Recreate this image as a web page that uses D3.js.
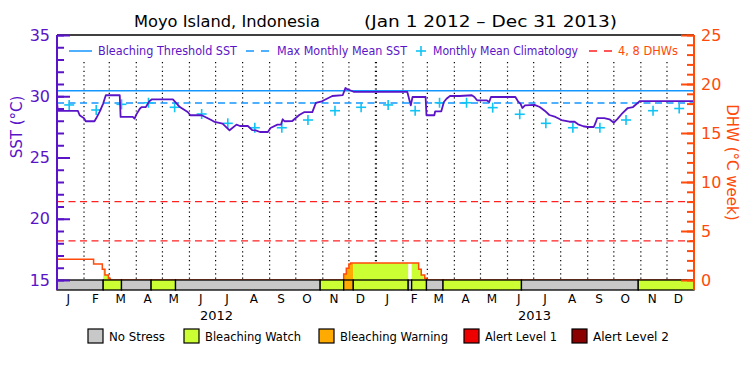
<!DOCTYPE html>
<html>
<head>
<meta charset="utf-8">
<script src="https://cdn.jsdelivr.net/npm/d3@7"></script>
<style>
body { margin: 0; background: #fff; }
svg { display: block; font-family: 'DejaVu Sans', sans-serif; }
</style>
</head>
<body>
<svg id="chart" width="750" height="375"></svg>
<script>
// ---- data ----
const monthLetters = ['J', 'F', 'M', 'A', 'M', 'J', 'J', 'A', 'S', 'O', 'N', 'D'];
const years = [2012, 2013];
const sstTicks = [15, 20, 25, 30, 35];
const dhwTicks = [0, 5, 10, 15, 20, 25];

const maxMonthlyMean = 29.45;
const bleachingThreshold = 30.45;
const dhwLevels = [4, 8];

// monthly mean climatology, Jan..Dec, shown for both years
const climatology2012 = [29.29, 28.88, 29.34, 29.47, 29.1, 28.55, 27.79, 27.43, 27.43, 28.06, 28.82, 29.1];
const climatology2013 = [29.29, 28.82, 29.47, 29.47, 29.07, 28.53, 27.79, 27.43, 27.43, 28.06, 28.82, 29.0];

// daily SST, key points of the trace
const sstSeries = [
    ['2012-01-01', 29.5], ['2012-01-02', 28.8], ['2012-01-25', 28.8], ['2012-01-27', 28.45],
    ['2012-02-01', 28.2], ['2012-02-03', 27.96], ['2012-02-13', 27.96], ['2012-02-15', 28.2],
    ['2012-02-19', 28.75], ['2012-02-23', 29.4], ['2012-02-26', 30.08], ['2012-03-13', 30.08],
    ['2012-03-14', 28.31], ['2012-03-28', 28.31], ['2012-03-30', 28.17], ['2012-04-01', 28.5],
    ['2012-04-05', 28.98], ['2012-04-07', 29.12], ['2012-04-12', 29.12], ['2012-04-16', 29.6],
    ['2012-04-19', 29.75], ['2012-05-13', 29.75], ['2012-05-21', 29.12], ['2012-05-30', 28.71],
    ['2012-06-02', 28.45], ['2012-06-15', 28.45], ['2012-06-26', 28.06], ['2012-06-30', 27.9],
    ['2012-07-09', 27.76], ['2012-07-17', 27.22], ['2012-07-25', 27.68], ['2012-07-29', 27.57],
    ['2012-08-07', 27.57], ['2012-08-12', 27.24], ['2012-08-16', 27.22], ['2012-08-21', 27.08],
    ['2012-08-30', 27.08], ['2012-09-02', 27.41], ['2012-09-10', 27.68], ['2012-09-14', 27.68],
    ['2012-09-16', 28.12], ['2012-09-18', 27.96], ['2012-09-27', 27.98], ['2012-10-05', 28.47],
    ['2012-10-11', 28.71], ['2012-10-20', 28.71], ['2012-10-24', 29.45], ['2012-10-31', 29.59],
    ['2012-11-12', 30.02], ['2012-11-24', 30.1], ['2012-11-27', 30.67], ['2012-11-29', 30.59],
    ['2012-12-07', 30.35], ['2013-02-06', 30.35], ['2013-02-09', 29.53], ['2013-02-10', 29.26],
    ['2013-02-12', 29.94], ['2013-02-27', 29.94], ['2013-02-28', 28.45], ['2013-03-09', 28.45],
    ['2013-03-10', 28.77], ['2013-03-17', 28.77], ['2013-03-20', 29.53], ['2013-03-23', 29.8],
    ['2013-03-27', 30.02], ['2013-04-07', 30.02], ['2013-04-21', 30.08], ['2013-04-24', 29.94],
    ['2013-04-27', 29.67], ['2013-05-08', 29.67], ['2013-05-11', 29.53], ['2013-05-13', 29.94],
    ['2013-06-10', 29.94], ['2013-06-13', 29.59], ['2013-06-16', 29.37], ['2013-06-18', 29.04],
    ['2013-06-21', 29.26], ['2013-07-02', 29.29], ['2013-07-08', 29.12], ['2013-07-14', 28.8],
    ['2013-07-19', 28.47], ['2013-07-26', 28.31], ['2013-08-02', 28.06], ['2013-08-11', 27.92],
    ['2013-08-17', 27.92], ['2013-08-21', 27.71], ['2013-08-27', 27.55], ['2013-09-01', 27.49],
    ['2013-09-08', 27.49], ['2013-09-10', 27.82], ['2013-09-12', 28.22], ['2013-09-20', 28.22],
    ['2013-09-26', 28.12], ['2013-10-01', 27.84], ['2013-10-05', 28.14], ['2013-10-11', 28.63],
    ['2013-10-17', 29.04], ['2013-10-23', 29.12], ['2013-10-27', 29.37], ['2013-10-31', 29.61],
    ['2013-12-31', 29.61]
];

// degree heating weeks, value holds from that date on
const dhwSeries = [
    ['2012-01-01', 2.11], ['2012-02-12', 1.63], ['2012-02-22', 1.09], ['2012-02-25', 0.51],
    ['2012-02-29', 0.17], ['2012-03-02', 0], ['2012-11-25', 0.6], ['2012-11-28', 1.19],
    ['2012-12-01', 1.63], ['2012-12-03', 1.74], ['2013-02-19', 1.09], ['2013-02-22', 0.51],
    ['2013-02-26', 0.17], ['2013-02-28', 0], ['2014-01-01', 0]
];

// stress level: 0 no stress, 1 watch, 2 warning, 3 alert 1, 4 alert 2
const stressSegments = [
    ['2012-01-01', '2012-02-23', 0], ['2012-02-23', '2012-03-15', 1], ['2012-03-15', '2012-04-18', 0],
    ['2012-04-18', '2012-05-16', 1], ['2012-05-16', '2012-10-29', 0], ['2012-10-29', '2012-11-25', 1],
    ['2012-11-25', '2012-12-06', 2], ['2012-12-06', '2013-02-07', 1], ['2013-02-07', '2013-02-11', 0],
    ['2013-02-11', '2013-02-28', 1], ['2013-02-28', '2013-03-19', 0], ['2013-03-19', '2013-06-17', 1],
    ['2013-06-17', '2013-10-29', 0], ['2013-10-29', '2014-01-01', 1]
];

const stressNames = ['No Stress', 'Bleaching Watch', 'Bleaching Warning', 'Alert Level 1', 'Alert Level 2'];
const stressColors = ['#c8c8c8', '#ccff33', '#ffaa00', '#ee0000', '#8b0000'];

const COLOR_SST = '#5a14c8';
const COLOR_THRESH = '#1496ff';
const COLOR_CLIM = '#10c4f4';
const COLOR_DHW = '#ff4a0a';
const COLOR_DHW_LINES = '#ff2020';

// ---- layout ----
const plot = { left: 57, right: 694, top: 35, bottom: 280, stripBottom: 290 };

const parse = d3.utcParse('%Y-%m-%d');
const start = parse('2012-01-01');
const end = parse('2014-01-01');

const x = d3.scaleUtc().domain([start, end]).range([plot.left, plot.right]);
const ySST = d3.scaleLinear().domain([15, 35]).range([plot.bottom, plot.top]);
const yDHW = d3.scaleLinear().domain([0, 25]).range([plot.bottom, plot.top]);

const svg = d3.select('#chart');

// title
const title = svg.append('g').attr('font-size', 16).attr('fill', '#000');
title.append('text').attr('x', 134).attr('y', 27)
    .attr('textLength', 186).attr('lengthAdjust', 'spacingAndGlyphs')
    .text('Moyo Island, Indonesia');
title.append('text').attr('x', 364).attr('y', 27)
    .attr('textLength', 253).attr('lengthAdjust', 'spacingAndGlyphs')
    .text('(Jan 1 2012 \u2013 Dec 31 2013)');

// month grid
const monthStarts = d3.utcMonth.range(d3.utcMonth.offset(start, 1), end);
svg.append('g')
    .selectAll('line')
    .data(monthStarts)
    .join('line')
    .attr('x1', d => x(d)).attr('x2', d => x(d))
    .attr('y1', 62).attr('y2', plot.bottom)
    .attr('stroke', '#000')
    .attr('stroke-width', d => d.getUTCMonth() === 0 ? 2.2 : 1.2)
    .attr('stroke-dasharray', '1.2,3.2');

// DHW threshold lines
svg.append('g')
    .selectAll('line')
    .data(dhwLevels)
    .join('line')
    .attr('x1', plot.left).attr('x2', plot.right)
    .attr('y1', d => yDHW(d)).attr('y2', d => yDHW(d))
    .attr('stroke', COLOR_DHW_LINES)
    .attr('stroke-width', 1.3)
    .attr('stroke-dasharray', '7,4.5');

// DHW area coloured by stress level
const dhwData = dhwSeries.map(d => ({ date: parse(d[0]), value: d[1] }));
const dhwArea = d3.area()
    .curve(d3.curveStepAfter)
    .x(d => x(d.date))
    .y0(yDHW(0))
    .y1(d => yDHW(d.value));
const dhwLine = d3.line()
    .curve(d3.curveStepAfter)
    .x(d => x(d.date))
    .y(d => yDHW(d.value));

const segments = stressSegments.map(d => ({ from: parse(d[0]), to: parse(d[1]), level: d[2] }));
const defs = svg.append('defs');
segments.forEach((s, i) => {
    if (s.level === 0) return;
    defs.append('clipPath').attr('id', 'seg' + i)
        .append('rect')
        .attr('x', x(s.from)).attr('width', x(s.to) - x(s.from))
        .attr('y', plot.top).attr('height', plot.bottom - plot.top);
    svg.append('path')
        .datum(dhwData)
        .attr('clip-path', `url(#seg${ i })`)
        .attr('fill', stressColors[s.level])
        .attr('d', dhwArea);
});
svg.append('path')
    .datum(dhwData)
    .attr('fill', 'none')
    .attr('stroke', COLOR_DHW)
    .attr('stroke-width', 1.5)
    .attr('d', dhwLine);

// threshold and MMM
svg.append('line')
    .attr('x1', plot.left).attr('x2', plot.right)
    .attr('y1', ySST(bleachingThreshold)).attr('y2', ySST(bleachingThreshold))
    .attr('stroke', COLOR_THRESH).attr('stroke-width', 1.5);
svg.append('line')
    .attr('x1', plot.left).attr('x2', plot.right)
    .attr('y1', ySST(maxMonthlyMean)).attr('y2', ySST(maxMonthlyMean))
    .attr('stroke', COLOR_THRESH).attr('stroke-width', 1.5)
    .attr('stroke-dasharray', '7,4.5');

// climatology crosses at mid-month
const climData = years.flatMap((yr, yi) => {
    const vals = yi === 0 ? climatology2012 : climatology2013;
    return vals.map((v, m) => ({ date: new Date(Date.UTC(yr, m, 15)), value: v }));
});
const crosses = svg.append('g').attr('stroke', COLOR_CLIM).attr('stroke-width', 1.6);
climData.forEach(d => {
    const cx = x(d.date), cy = ySST(d.value);
    crosses.append('line').attr('x1', cx - 5).attr('x2', cx + 5).attr('y1', cy).attr('y2', cy);
    crosses.append('line').attr('x1', cx).attr('x2', cx).attr('y1', cy - 5).attr('y2', cy + 5);
});

// SST trace
const sstData = sstSeries.map(d => ({ date: parse(d[0]), value: d[1] }));
svg.append('path')
    .datum(sstData)
    .attr('fill', 'none')
    .attr('stroke', COLOR_SST)
    .attr('stroke-width', 1.8)
    .attr('stroke-linejoin', 'round')
    .attr('d', d3.line().x(d => x(d.date)).y(d => ySST(d.value)));

// stress strip
const strip = svg.append('g');
strip.selectAll('rect')
    .data(segments)
    .join('rect')
    .attr('x', d => x(d.from))
    .attr('width', d => x(d.to) - x(d.from))
    .attr('y', plot.bottom)
    .attr('height', plot.stripBottom - plot.bottom)
    .attr('fill', d => stressColors[d.level])
    .attr('stroke', '#000')
    .attr('stroke-width', 1.3);

// top frame
svg.append('line')
    .attr('x1', plot.left).attr('x2', plot.right)
    .attr('y1', plot.top).attr('y2', plot.top)
    .attr('stroke', '#000').attr('stroke-width', 1.5);

// left axis (SST)
function drawAxis(scale, side, color, minorStep, majorTicks, xPos)
{
    const maker = side === 'left' ? d3.axisLeft : d3.axisRight;
    const [lo, hi] = scale.domain();
    const g = svg.append('g').attr('transform', `translate(${ xPos },0)`);
    g.append('g')
        .call(maker(scale).tickValues(d3.range(lo, hi + 0.001, minorStep))
            .tickSizeInner(-7).tickSizeOuter(0).tickFormat(''));
    g.append('g')
        .call(maker(scale).tickValues(majorTicks)
            .tickSizeInner(-13).tickSizeOuter(0).tickPadding(7));
    g.selectAll('.domain').remove();
    g.selectAll('line').attr('stroke', color).attr('stroke-width', 2);
    g.selectAll('text')
        .attr('fill', color)
        .attr('font-size', 16)
        .attr('font-family', "'DejaVu Sans', sans-serif");
    g.append('line')
        .attr('y1', plot.top).attr('y2', plot.stripBottom)
        .attr('stroke', color).attr('stroke-width', 2);
}
drawAxis(ySST, 'left', COLOR_SST, 1, sstTicks, plot.left);
drawAxis(yDHW, 'right', COLOR_DHW, 1, dhwTicks, plot.right);

svg.append('text')
    .attr('transform', `translate(22,${ ySST(27.5) }) rotate(-90)`)
    .attr('text-anchor', 'middle')
    .attr('fill', COLOR_SST)
    .attr('font-size', 15)
    .text('SST (\u00B0C)');
svg.append('text')
    .attr('transform', `translate(727,${ yDHW(12) }) rotate(90)`)
    .attr('text-anchor', 'middle')
    .attr('fill', COLOR_DHW)
    .attr('font-size', 15)
    .text('DHW (\u00B0C week)');

// month and year labels
const monthMids = d3.utcMonth.range(start, end).map(d => new Date(Date.UTC(d.getUTCFullYear(), d.getUTCMonth(), 14)));
svg.append('g')
    .selectAll('text')
    .data(monthMids)
    .join('text')
    .attr('x', d => x(d))
    .attr('y', 303)
    .attr('text-anchor', 'middle')
    .attr('font-size', 12)
    .text(d => monthLetters[d.getUTCMonth()]);
svg.append('g')
    .selectAll('text')
    .data(years)
    .join('text')
    .attr('x', d => x(new Date(Date.UTC(d, 6, 2))))
    .attr('y', 320)
    .attr('text-anchor', 'middle')
    .attr('font-size', 13)
    .text(d => d);

// top legend
const legendY = 51;
const legTop = svg.append('g').attr('font-size', 12);
legTop.append('line').attr('x1', 69).attr('x2', 92).attr('y1', legendY).attr('y2', legendY)
    .attr('stroke', COLOR_THRESH).attr('stroke-width', 1.5);
legTop.append('text').attr('x', 98).attr('y', legendY + 4).attr('fill', COLOR_SST)
    .attr('textLength', 139).attr('lengthAdjust', 'spacingAndGlyphs').text('Bleaching Threshold SST');
legTop.append('line').attr('x1', 246).attr('x2', 271).attr('y1', legendY).attr('y2', legendY)
    .attr('stroke', COLOR_THRESH).attr('stroke-width', 1.5).attr('stroke-dasharray', '8,7');
legTop.append('text').attr('x', 277).attr('y', legendY + 4).attr('fill', COLOR_SST)
    .attr('textLength', 130).attr('lengthAdjust', 'spacingAndGlyphs').text('Max Monthly Mean SST');
legTop.append('line').attr('x1', 416).attr('x2', 426).attr('y1', legendY).attr('y2', legendY)
    .attr('stroke', COLOR_CLIM).attr('stroke-width', 1.6);
legTop.append('line').attr('x1', 421).attr('x2', 421).attr('y1', legendY - 5).attr('y2', legendY + 5)
    .attr('stroke', COLOR_CLIM).attr('stroke-width', 1.6);
legTop.append('text').attr('x', 433).attr('y', legendY + 4).attr('fill', COLOR_SST)
    .attr('textLength', 145).attr('lengthAdjust', 'spacingAndGlyphs').text('Monthly Mean Climatology');
legTop.append('line').attr('x1', 589).attr('x2', 614).attr('y1', legendY).attr('y2', legendY)
    .attr('stroke', COLOR_DHW_LINES).attr('stroke-width', 1.5).attr('stroke-dasharray', '8,7');
legTop.append('text').attr('x', 618).attr('y', legendY + 4).attr('fill', COLOR_DHW)
    .attr('textLength', 60).attr('lengthAdjust', 'spacingAndGlyphs').text('4, 8 DHWs');

// bottom legend
const legendX = [88, 184, 319, 464, 572];
const legendW = [56, 96, 108, 72, 76];
const legBottom = svg.append('g').attr('font-size', 12);
stressNames.forEach((name, i) => {
    legBottom.append('rect')
        .attr('x', legendX[i]).attr('y', 329)
        .attr('width', 15).attr('height', 14)
        .attr('fill', stressColors[i])
        .attr('stroke', '#000').attr('stroke-width', 1.2);
    legBottom.append('text')
        .attr('x', legendX[i] + 21).attr('y', 341)
        .attr('textLength', legendW[i]).attr('lengthAdjust', 'spacingAndGlyphs')
        .text(name);
});
</script>
</body>
</html>
